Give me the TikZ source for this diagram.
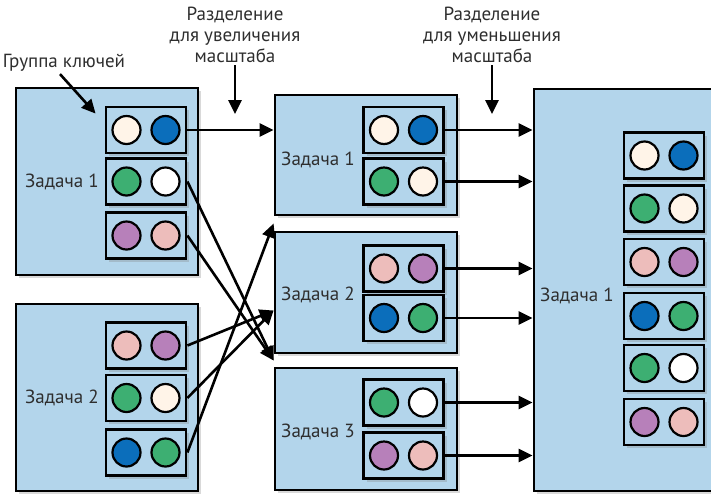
\documentclass[tikz,border=0pt]{standalone}
\usepackage{fontspec}
\setmainfont{PT Sans}
\usetikzlibrary{arrows.meta,calc,shadows}
\definecolor{boxblue}{HTML}{B3D5EB}
\definecolor{keycream}{HTML}{FFF4E8}
\definecolor{keyblue}{HTML}{0B6EBB}
\definecolor{keygreen}{HTML}{3DAF72}
\definecolor{keypurple}{HTML}{B780BA}
\definecolor{keypink}{HTML}{EDBDBB}
\definecolor{textgray}{HTML}{2E2E2E}
% key group: name, x, y, left colour, right colour
\newcommand{\keygroup}[5]{%
  \node[group] (#1) at (#2,#3) {};
  \draw[key,fill=#4] ($(#1.center)+(-19.5,0)$) circle (14pt);
  \draw[key,fill=#5] ($(#1.center)+(19.5,0)$) circle (14pt);
}
\begin{document}
\begin{tikzpicture}[x=1pt,y=-1pt,
  task/.style={draw,line width=2.8pt,fill=boxblue,inner sep=0pt,
    drop shadow={shadow xshift=3pt,shadow yshift=-3pt,opacity=.3}},
  group/.style={draw,line width=2.8pt,fill=boxblue,inner sep=0pt,
    minimum width=80pt,minimum height=46pt,
    drop shadow={shadow xshift=3pt,shadow yshift=-3pt,opacity=.3}},
  key/.style={draw,line width=2.2pt},
  lbl/.style={text=textgray,inner sep=0pt,font=\fontsize{19}{21}\selectfont},
  arr/.style={line width=2.6pt,-{Triangle[length=14pt,width=13pt]}}]
  \clip (0,0) rectangle (711,496);
  % Left tasks
  \node[task,minimum width=182pt,minimum height=187pt] (left1) at (107,181.5) {};
  \node[task,minimum width=182pt,minimum height=187pt] (left2) at (107,397.5) {};
  \node[lbl] (left1lbl) at (62,182) {Задача 1};
  \node[lbl] (left2lbl) at (62,398) {Задача 2};
  \keygroup{l1a}{146}{130}{keycream}{keyblue}
  \keygroup{l1b}{146}{181.5}{keygreen}{white}
  \keygroup{l1c}{146}{235.5}{keypurple}{keypink}
  \keygroup{l2a}{146}{345.5}{keypink}{keypurple}
  \keygroup{l2b}{146}{398}{keygreen}{keycream}
  \keygroup{l2c}{146}{452.5}{keyblue}{keygreen}
  % Middle tasks
  \node[task,minimum width=182pt,minimum height=120pt] (mid1) at (366,155) {};
  \node[task,minimum width=182pt,minimum height=121pt] (mid2) at (366,292.5) {};
  \node[task,minimum width=182pt,minimum height=122pt] (mid3) at (366,429) {};
  \node[lbl] (mid1lbl) at (318,160) {Задача 1};
  \node[lbl] (mid2lbl) at (318,295) {Задача 2};
  \node[lbl] (mid3lbl) at (318,432) {Задача 3};
  \keygroup{m1a}{403.5}{130}{keycream}{keyblue}
  \keygroup{m1b}{403.5}{181.5}{keygreen}{keycream}
  \keygroup{m2a}{403.5}{268.5}{keypink}{keypurple}
  \keygroup{m2b}{403.5}{318}{keyblue}{keygreen}
  \keygroup{m3a}{403.5}{402.5}{keygreen}{white}
  \keygroup{m3b}{403.5}{455.5}{keypurple}{keypink}
  % Right task
  \node[task,minimum width=196pt,minimum height=402pt] (big) at (632,290) {};
  \node[lbl] (biglbl) at (577,296) {Задача 1};
  \keygroup{ra}{664}{155.5}{keycream}{keyblue}
  \keygroup{rb}{664}{208.5}{keygreen}{keycream}
  \keygroup{rc}{664}{262}{keypink}{keypurple}
  \keygroup{rd}{664}{316}{keyblue}{keygreen}
  \keygroup{re}{664}{368}{keygreen}{white}
  \keygroup{rf}{664}{422}{keypurple}{keypink}
  % Captions
  \node[lbl,anchor=base] (keylbl) at (64,67) {Группа ключей};
  \node[lbl,align=center,anchor=north] (upscale) at (235,7) {Разделение\\для увеличения\\масштаба};
  \node[lbl,align=center,anchor=north] (downscale) at (492,7) {Разделение\\для уменьшения\\масштаба};
  \draw[arr] ([xshift=-4pt,yshift=-3pt]keylbl.south) -- ($(l1a.north west)+(-9,8)$);
  \draw[arr] ([yshift=-2pt]upscale.south) -- ++(0,49);
  \draw[arr] ([yshift=-2pt]downscale.south) -- ++(0,49);
  % Entry points on the middle tasks
  \coordinate (gap12) at ($(mid1.south west)!0.5!(mid2.north west)$);
  \coordinate (gap23) at ($(mid2.south west)!0.5!(mid3.north west)$);
  \coordinate (mid2in) at ($(mid2.west)+(0,18)$);
  % Upscale connectors
  \draw[arr] (l1a.east) -- (l1a.east -| mid1.west);
  \draw[arr] (l1b.east) -- (gap23);
  \draw[arr] (l1c.east) -- (gap23);
  \draw[arr] (l2a.east) -- (mid2in);
  \draw[arr] (l2b.east) -- (mid2in);
  \draw[arr] (l2c.east) -- (gap12);
  % Downscale connectors
  \foreach \g in {m1a,m1b,m2a,m2b,m3a,m3b}
    \draw[arr] (\g.east) -- (\g.east -| big.west);
\end{tikzpicture}
\end{document}
